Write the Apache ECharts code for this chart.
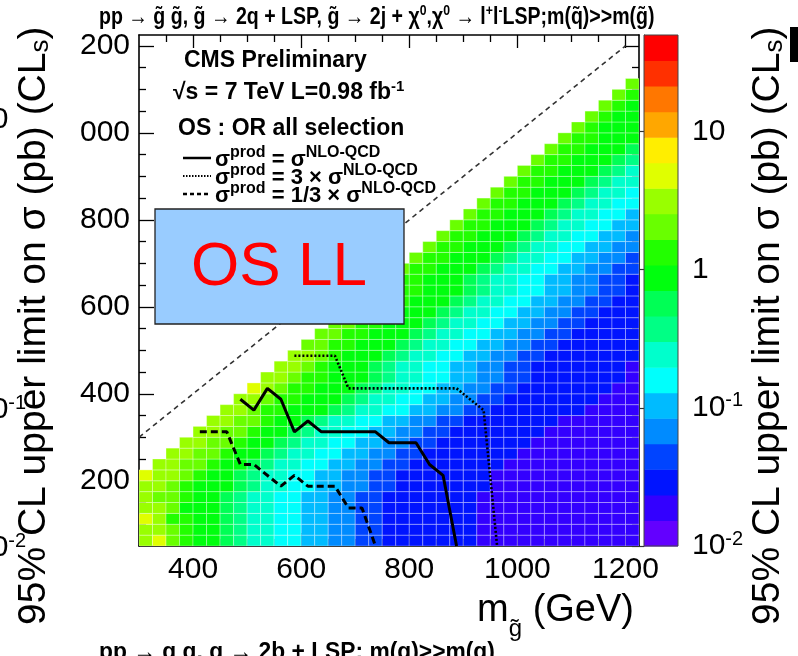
<!DOCTYPE html>
<html>
<head>
<meta charset="utf-8">
<title>OS LL limit</title>
<script src="https://cdn.jsdelivr.net/npm/echarts@6/dist/echarts.min.js"></script>
<style>
html,body{margin:0;padding:0;background:#ffffff;}
#chart{width:798px;height:656px;}
</style>
</head>
<body>
<div id="chart"></div>
<script>
// ---------------- data ----------------
const xRange = [300, 1225];           // m(gluino) GeV
const yRange = [50, 1225];            // m(LSP) GeV
const binWidth = 25;
const xMajorTicks = [400, 600, 800, 1000, 1200];
const xMinorTicks = [350, 450, 500, 550, 650, 700, 750, 850, 900, 950, 1050, 1100, 1150];
const yMajorTicks = [200, 400, 600, 800, 1000, 1200];
const yMinorTicks = [100, 150, 250, 300, 350, 450, 500, 550, 650, 700, 750, 850, 900, 950, 1050, 1100, 1150];
const zRange = [0.01, 50];            // pb, log colour scale
const zLabelTicks = [0.01, 0.1, 1, 10];
const zMinorTicks = [0.02,0.03,0.04,0.05,0.06,0.07,0.08,0.09,0.2,0.3,0.4,0.5,0.6,0.7,0.8,0.9,2,3,4,5,6,7,8,9,20,30,40];
const nLevels = 20;
const levelColors = ['#6300ff','#3300ff','#0014ff','#0044ff','#008bff','#00bbff','#00fffc','#00ffcc','#00ff85','#00ff55',
                     '#00ff0e','#22ff00','#69ff00','#99ff00','#e0ff00','#ffee00','#ffa700','#ff7700','#ff3000','#ff0000'];
// heat map: row j is the m(LSP) bin starting at 50+25j; each character is the colour level (base 36) of a
// m(gluino) bin, the first one being bin rowStart[j]
const rowStart = [0,0,0,0,0,0,0,1,2,3,4,5,6,7,8,9,10,11,12,13,14,15,16,17,18,19,20,21,22,23,24,25,26,27,28,29,30,31,32,33,34,35,36];
const heatRows = [
 "decbaa9877665544332222222111111111111",
 "ddcbaa9877665544332222222111111111111",
 "edbbaa9877665544332222222111111111111",
 "ddcaaa9877665544332222222111111111111",
 "dccbaa9877665544332222222111111111111",
 "ddcbaaa987766554433222222211111111111",
 "eddcbaa987766554433222222211111111111",
 "ddccbaa98776655443322222221111111111",
 "ddccbaa9877665544332222222111111111",
 "ddccbaa987766554433222222211111111",
 "ddccbaa98776655443322222221111111",
 "ddccbaa9877665544332222222111111",
 "ddcbbaaa98776655443322222221111",
 "ddcbbaaa9877665544332222222111",
 "edcbbaaa987766554433222222211",
 "ddcbbaaa98776655443322222221",
 "ddcbaaa98776655443322222221",
 "ddcbaaa9877665544332222222",
 "ccbbaaa987766554433222222",
 "ccbbaaa98776655443322222",
 "ccbbaaa9877665544332222",
 "ccbbaaa987766554433222",
 "ccbbaaa98776655443322",
 "ccbbaaa9877665544332",
 "cbbaaa9877665544332",
 "cbbaaa987766554433",
 "cbbaaa98776655443",
 "cbbaaa9877665544",
 "cbbaaa987766554",
 "cbbaaa98776655",
 "cbbaaa9877665",
 "cbbaaa987766",
 "cbbaaa98776",
 "cbbaaa9877",
 "cbbaaa987",
 "cbbaaa98",
 "cbbaaa9",
 "cbbaaa",
 "cbaaa",
 "cbaa",
 "cba",
 "cb",
 "c"
];
// limit contours (m_gluino, m_LSP)
const contourNominal = [[487.5,387.5],[512.5,362.5],[537.5,412.5],[562.5,387.5],[587.5,312.5],[612.5,337.5],[637.5,312.5],[737.5,312.5],[762.5,287.5],[812.5,287.5],[837.5,237.5],[862.5,212.5],[887.5,50]];
const contourTimes3 = [[587.5,487.5],[662.5,487.5],[687.5,412.5],[887.5,412.5],[937.5,362.5],[962.5,50]];
const contourThird = [[412.5,312.5],[462.5,312.5],[487.5,237.5],[512.5,237.5],[562.5,187.5],[587.5,212.5],[612.5,187.5],[662.5,187.5],[687.5,137.5],[712.5,137.5],[737.5,50]];
const diagonal = [[300,300],[1200,1200]];

// ---------------- build ----------------
const FONT = '"Liberation Sans", Arial, Helvetica, sans-serif';
const logMin = Math.log10(zRange[0]), logMax = Math.log10(zRange[1]);
const step = (logMax - logMin) / nLevels;
function levelValue(l) { return Math.pow(10, logMin + (l + 0.5) * step); }
function colorOf(v) {
  let l = Math.floor((Math.log10(v) - logMin) / step);
  l = Math.max(0, Math.min(nLevels - 1, l));
  return levelColors[l];
}
const cells = [];
heatRows.forEach((s, j) => {
  for (let k = 0; k < s.length; k++) {
    const lvl = parseInt(s[k], 36);
    cells.push([xRange[0] + (rowStart[j] + k) * binWidth, yRange[0] + j * binWidth, levelValue(lvl)]);
  }
});
const colorbarData = levelColors.map((c, l) => [logMin + l * step, logMin + (l + 1) * step, l]);

const chart = echarts.init(document.getElementById('chart'), null, {renderer: 'canvas', width: 798, height: 656});

function mainAxis(dimRange, pos, ticks, len, showLine, label) {
  return {
    gridIndex: 0, type: 'value', min: dimRange[0], max: dimRange[1], position: pos,
    axisLine: {show: showLine, onZero: false, lineStyle: {color: '#000', width: 1.6}},
    axisTick: {show: true, inside: true, length: len, customValues: ticks, lineStyle: {color: '#000', width: 1.3}},
    axisLabel: label || {show: false},
    splitLine: {show: false}
  };
}
const xLabel = {show: true, customValues: xMajorTicks, margin: 9, fontSize: 30, fontFamily: FONT, color: '#000',
                formatter: v => String(v)};
const yLabel = {show: true, customValues: yMajorTicks, margin: 9, fontSize: 30, fontFamily: FONT, color: '#000',
                formatter: v => (v >= 1000 ? String(v).slice(1) : String(v))};

const supRich = {sup: {fontSize: 20, fontFamily: FONT, color: '#000', lineHeight: 14, verticalAlign: 'top'}};
const legendRich = {b: {fontSize: 22, fontWeight: 'bold', fontFamily: FONT, fill: '#000', lineHeight: 30},
                    u: {fontSize: 16, fontWeight: 'bold', fontFamily: FONT, fill: '#000', lineHeight: 12, verticalAlign: 'top'}};
const titleRich = {m: {fontSize: 39, fontFamily: FONT, fill: '#000', lineHeight: 40},
                   s: {fontSize: 26, fontFamily: FONT, fill: '#000', lineHeight: 16, verticalAlign: 'bottom'}};

const option = {
  animation: false,
  backgroundColor: '#ffffff',
  grid: [
    {left: 139, top: 35, width: 500, height: 511},
    {left: 644, top: 35, width: 34, height: 511}
  ],
  xAxis: [
    mainAxis(xRange, 'bottom', xMajorTicks, 13, true, xLabel),
    mainAxis(xRange, 'bottom', xMinorTicks, 7, false),
    mainAxis(xRange, 'top', xMajorTicks, 13, true),
    mainAxis(xRange, 'top', xMinorTicks, 7, false),
    {gridIndex: 1, type: 'value', min: 0, max: 1, show: false}
  ],
  yAxis: [
    mainAxis(yRange, 'left', yMajorTicks, 15, true, yLabel),
    mainAxis(yRange, 'left', yMinorTicks, 7, false),
    mainAxis(yRange, 'right', yMajorTicks, 15, true),
    mainAxis(yRange, 'right', yMinorTicks, 7, false),
    {gridIndex: 1, type: 'value', min: logMin, max: logMax, position: 'right',
     axisLine: {show: true, lineStyle: {color: '#333', width: 1}},
     axisTick: {show: true, inside: true, length: 12, customValues: zLabelTicks.map(Math.log10), lineStyle: {color: '#333', width: 1.2}},
     axisLabel: {show: true, customValues: zLabelTicks.map(Math.log10), margin: 14, fontSize: 30, fontFamily: FONT, color: '#000', lineHeight: 34,
                 formatter: v => { const e = Math.round(v); if (e === 0) return '1'; if (e === 1) return '10'; return '10{sup|' + e + '}'; },
                 rich: supRich},
     splitLine: {show: false}},
    {gridIndex: 1, type: 'value', min: logMin, max: logMax, position: 'right',
     axisLine: {show: false},
     axisTick: {show: true, inside: true, length: 6, customValues: zMinorTicks.map(Math.log10), lineStyle: {color: '#333', width: 1.1}},
     axisLabel: {show: false}, splitLine: {show: false}}
  ],
  series: [
    {
      type: 'custom', name: 'limit', xAxisIndex: 0, yAxisIndex: 0, data: cells, clip: true, z: 1, silent: true,
      encode: {x: 0, y: 1},
      renderItem: (params, api) => {
        const x = api.value(0), y = api.value(1), v = api.value(2);
        const a = api.coord([x, y + binWidth]);
        const b = api.coord([x + binWidth, y]);
        return {type: 'rect', shape: {x: a[0], y: a[1], width: b[0] - a[0], height: b[1] - a[1]},
                style: {fill: colorOf(v), stroke: 'rgba(255,255,255,0.4)', lineWidth: 0.8}};
      }
    },
    {
      type: 'custom', name: 'palette', xAxisIndex: 4, yAxisIndex: 4, data: colorbarData, silent: true, z: 1,
      encode: {y: [0, 1]},
      renderItem: (params, api) => {
        const lo = api.value(0), hi = api.value(1), l = api.value(2);
        const a = api.coord([0, hi]);
        const b = api.coord([1, lo]);
        return {type: 'rect', shape: {x: a[0], y: a[1], width: b[0] - a[0], height: b[1] - a[1] + 0.5},
                style: {fill: levelColors[l]}};
      }
    },
    {type: 'line', name: 'diagonal', xAxisIndex: 0, yAxisIndex: 0, data: diagonal, symbol: 'none', z: 3, silent: true,
     lineStyle: {color: '#333', width: 1.6, type: [5, 4]}},
    {type: 'line', name: 'nominal', xAxisIndex: 0, yAxisIndex: 0, data: contourNominal, symbol: 'none', z: 4, silent: true,
     lineStyle: {color: '#000', width: 3}},
    {type: 'line', name: 'x3', xAxisIndex: 0, yAxisIndex: 0, data: contourTimes3, symbol: 'none', z: 4, silent: true,
     lineStyle: {color: '#000', width: 2.6, type: [2, 2]}},
    {type: 'line', name: 'x1/3', xAxisIndex: 0, yAxisIndex: 0, data: contourThird, symbol: 'none', z: 4, silent: true,
     lineStyle: {color: '#000', width: 3, type: [7, 4]}}
  ],
  graphic: [
    {type: 'rect', z: 50, silent: true, shape: {x: 644, y: 35, width: 34, height: 511},
     style: {fill: 'none', stroke: '#444', lineWidth: 1}},
    {type: 'rect', z: 60, shape: {x: 155, y: 209, width: 249, height: 115},
     style: {fill: '#99ccff', stroke: '#222', lineWidth: 1.3}},
    {type: 'text', z: 61, x: 279, y: 268,
     style: {text: 'OS LL', fill: '#ff0000', fontSize: 62, fontFamily: FONT, align: 'center', verticalAlign: 'middle'}},
    {type: 'text', z: 61, x: 184, y: 61,
     style: {text: 'CMS Preliminary', fill: '#000', fontSize: 23, fontWeight: 'bold', fontFamily: FONT, align: 'left', verticalAlign: 'middle'}},
    {type: 'text', z: 61, x: 173, y: 93,
     style: {text: '{b|√s = 7 TeV L=0.98 fb}{u|-1}', align: 'left', verticalAlign: 'middle',
             rich: {b: {fontSize: 23, fontWeight: 'bold', fontFamily: FONT, fill: '#000', lineHeight: 28},
                    u: {fontSize: 15, fontWeight: 'bold', fontFamily: FONT, fill: '#000', lineHeight: 12, verticalAlign: 'top'}}}},
    {type: 'text', z: 61, x: 178, y: 129,
     style: {text: 'OS : OR all selection', fill: '#000', fontSize: 23, fontWeight: 'bold', fontFamily: FONT, align: 'left', verticalAlign: 'middle'}},
    {type: 'line', z: 61, shape: {x1: 183, y1: 158, x2: 211, y2: 158}, style: {stroke: '#000', lineWidth: 2.5}},
    {type: 'line', z: 61, shape: {x1: 183, y1: 176, x2: 211, y2: 176}, style: {stroke: '#000', lineWidth: 2, lineDash: [1.5, 1.5]}},
    {type: 'line', z: 61, shape: {x1: 183, y1: 194, x2: 211, y2: 194}, style: {stroke: '#000', lineWidth: 2.5, lineDash: [4, 3]}},
    {type: 'text', z: 61, x: 215, y: 160,
     style: {text: '{b|σ}{u|prod}{b| = σ}{u|NLO-QCD}', align: 'left', verticalAlign: 'middle', rich: legendRich}},
    {type: 'text', z: 61, x: 215, y: 178,
     style: {text: '{b|σ}{u|prod}{b| = 3 × σ}{u|NLO-QCD}', align: 'left', verticalAlign: 'middle', rich: legendRich}},
    {type: 'text', z: 61, x: 215, y: 196,
     style: {text: '{b|σ}{u|prod}{b| = 1/3 × σ}{u|NLO-QCD}', align: 'left', verticalAlign: 'middle', rich: legendRich}},
    {type: 'text', z: 61, x: 634, y: 611,
     style: {text: '{m|m}{s|g̃}{m| (GeV)}', align: 'right', verticalAlign: 'middle',
             rich: {m: {fontSize: 38, fontFamily: FONT, fill: '#000', lineHeight: 60},
                    s: {fontSize: 24, fontFamily: FONT, fill: '#000', lineHeight: 18, verticalAlign: 'bottom'}}}},
    {type: 'group', x: 768, y: 625, rotation: Math.PI / 2, z: 61, children: [
      {type: 'text', x: 0, y: 0,
       style: {text: '{m|95% CL upper limit on σ (pb) (CL}{s|s}{m|)}', align: 'left', verticalAlign: 'middle', rich: titleRich}}]},
    {type: 'group', x: 34, y: 625, rotation: Math.PI / 2, z: 61, children: [
      {type: 'text', x: 0, y: 0,
       style: {text: '{m|95% CL upper limit on σ (pb) (CL}{s|s}{m|)}', align: 'left', verticalAlign: 'middle', rich: titleRich}}]},
    {type: 'text', z: 61, x: -25, y: 120, style: {text: '10', fontSize: 30, fontFamily: FONT, fill: '#000', align: 'left', verticalAlign: 'middle'}},
    {type: 'text', z: 61, x: -25, y: 410,
     style: {text: '{b|10}{u|-1}', align: 'left', verticalAlign: 'middle',
             rich: {b: {fontSize: 30, fontFamily: FONT, fill: '#000', lineHeight: 34}, u: {fontSize: 20, fontFamily: FONT, fill: '#000', lineHeight: 14, verticalAlign: 'top'}}}},
    {type: 'text', z: 61, x: -25, y: 548,
     style: {text: '{b|10}{u|-2}', align: 'left', verticalAlign: 'middle',
             rich: {b: {fontSize: 30, fontFamily: FONT, fill: '#000', lineHeight: 34}, u: {fontSize: 20, fontFamily: FONT, fill: '#000', lineHeight: 14, verticalAlign: 'top'}}}},
    {type: 'text', z: 61, x: 99, y: 17, scaleX: 0.815,
     style: {text: '{b|pp → g̃ g̃, g̃ → 2q + LSP, g̃ → 2j + χ}{u|0}{b|,χ}{u|0}{b| → l}{u|+}{b|l}{u|-}{b|LSP;m(q̃)>>m(g̃)}',
             align: 'left', verticalAlign: 'middle',
             rich: {b: {fontSize: 24, fontWeight: 'bold', fontFamily: FONT, fill: '#000', lineHeight: 28},
                    u: {fontSize: 15, fontWeight: 'bold', fontFamily: FONT, fill: '#000', lineHeight: 12, verticalAlign: 'top'}}}},
    {type: 'text', z: 61, x: 99, y: 652, scaleX: 0.95,
     style: {text: 'pp → g g, g → 2b + LSP; m(g)>>m(g)', fill: '#000', fontSize: 24, fontWeight: 'bold', fontFamily: FONT, align: 'left', verticalAlign: 'middle'}},
    {type: 'rect', z: 61, shape: {x: 790, y: 27, width: 8, height: 35}, style: {fill: '#000'}}
  ]
};
chart.setOption(option);
</script>
</body>
</html>
